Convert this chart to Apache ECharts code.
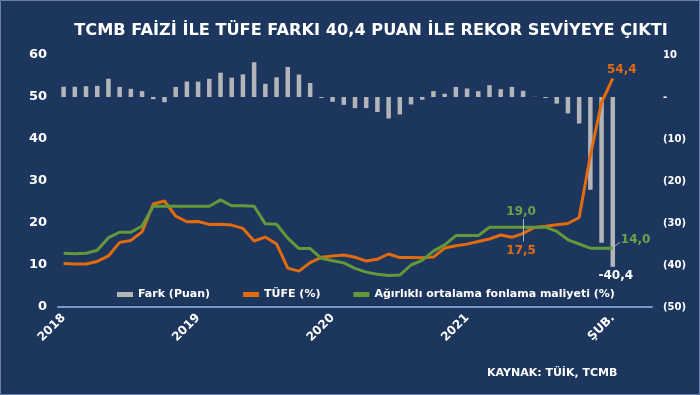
<!DOCTYPE html>
<html>
<head>
<meta charset="utf-8">
<script src="https://cdn.jsdelivr.net/npm/echarts@6/dist/echarts.min.js"></script>
<style>
html,body{margin:0;padding:0;background:#1c365e;}
#c{width:700px;height:395px;}
</style>
</head>
<body>
<div id="c"></div>
<script>
const months = [
'Oca 2018','Şub 2018','Mar 2018','Nis 2018','May 2018','Haz 2018','Tem 2018','Ağu 2018','Eyl 2018','Eki 2018','Kas 2018','Ara 2018',
'Oca 2019','Şub 2019','Mar 2019','Nis 2019','May 2019','Haz 2019','Tem 2019','Ağu 2019','Eyl 2019','Eki 2019','Kas 2019','Ara 2019',
'Oca 2020','Şub 2020','Mar 2020','Nis 2020','May 2020','Haz 2020','Tem 2020','Ağu 2020','Eyl 2020','Eki 2020','Kas 2020','Ara 2020',
'Oca 2021','Şub 2021','Mar 2021','Nis 2021','May 2021','Haz 2021','Tem 2021','Ağu 2021','Eyl 2021','Eki 2021','Kas 2021','Ara 2021',
'Oca 2022','Şub 2022'];
const tickLabels = {'Oca 2018':'2018','Oca 2019':'2019','Oca 2020':'2020','Oca 2021':'2021','Şub 2022':'ŞUB.'};

const tufe = [10.35,10.26,10.23,10.85,12.15,15.39,15.85,17.90,24.52,25.24,21.62,20.30,
20.35,19.67,19.71,19.50,18.71,15.72,16.65,15.01,9.26,8.55,10.56,11.84,
12.15,12.37,11.86,10.94,11.39,12.62,11.76,11.77,11.75,11.89,14.03,14.60,
14.97,15.61,16.19,17.14,16.59,17.53,18.95,19.25,19.58,19.89,21.31,36.08,
48.69,54.44];

const fonlama = [12.8,12.7,12.8,13.5,16.5,17.8,17.8,19.3,24.0,24.0,24.0,24.0,
24.0,24.0,25.5,24.1,24.1,24.0,19.8,19.7,16.4,13.9,13.9,11.6,
11.0,10.5,9.2,8.3,7.8,7.5,7.6,10.0,11.1,13.3,14.8,17.0,
17.0,17.0,19.0,19.0,19.0,19.0,19.0,19.0,18.0,16.0,15.0,14.0,
14.0,14.0];

const fark = [2.45,2.44,2.57,2.65,4.35,2.41,1.95,1.40,-0.52,-1.24,2.38,3.70,
3.65,4.33,5.79,4.60,5.39,8.28,3.15,4.69,7.14,5.35,3.34,-0.24,
-1.15,-1.87,-2.66,-2.64,-3.59,-5.12,-4.16,-1.77,-0.65,1.41,0.77,2.40,
2.03,1.39,2.81,1.86,2.41,1.47,0.05,-0.25,-1.58,-3.89,-6.31,-22.08,
-34.69,-40.44];

const leftTicks = {min:0, max:60, interval:10};
const rightTicks = {min:-50, max:10, interval:10};

const FONT = 'DejaVu Sans';
const ORANGE = '#e26b0e';
const GREEN = '#62993a';
const GREEN_TXT = '#6aa446';
const GRAY = '#b4b5b8';
const fmt = v => v.toFixed(1).replace('.', ',');

const categories = months.concat(['', '', '']);
const lastIdx = months.length - 1;
const annIdx = months.indexOf('Haz 2021');

const farkData = fark.map((v, i) => i === lastIdx ? {
  value: v,
  label: {show: true, position: 'bottom', distance: 3, offset: [3, 0], formatter: fmt(v),
          color: '#ffffff', fontFamily: FONT, fontWeight: 'bold', fontSize: 12}
} : v);

const tufeData = tufe.map((v, i) => {
  if (i === lastIdx) return {value: v, label: {show: true, position: 'top', distance: 2, offset: [9, 0], formatter: fmt(v)}};
  if (i === annIdx) return {value: v, label: {show: true, position: 'bottom', distance: 11, offset: [-2, 0], formatter: fmt(v)}};
  return v;
});
const fonlamaData = fonlama.map((v, i) => {
  if (i === lastIdx) return {value: v, label: {show: true, position: 'right', distance: 8, offset: [0, -8], formatter: fmt(v)}};
  if (i === annIdx) return {value: v, label: {show: true, position: 'top', distance: 9, offset: [-2, 0], formatter: fmt(v)}};
  return v;
});

const chart = echarts.init(document.getElementById('c'), null, {renderer: 'canvas'});
const option = {
  backgroundColor: '#1c365e',
  animation: false,
  title: {
    text: 'TCMB FAİZİ İLE TÜFE FARKI 40,4 PUAN İLE REKOR SEVİYEYE ÇIKTI',
    left: 366, top: 18, textAlign: 'center',
    textStyle: {color: '#ffffff', fontFamily: FONT, fontWeight: 'bold', fontSize: 16.2}
  },
  legend: {
    left: 112, top: 284, itemWidth: 16, itemHeight: 5, itemGap: 33, icon: 'rect',
    textStyle: {color: '#ffffff', fontFamily: FONT, fontWeight: 'bold', fontSize: 11},
    data: ['Fark (Puan)', 'TÜFE (%)', 'Ağırlıklı ortalama fonlama maliyeti (%)']
  },
  grid: {left: 58, right: 48, top: 55, bottom: 88, containLabel: false},
  xAxis: {
    type: 'category', data: categories, boundaryGap: true,
    axisLine: {lineStyle: {color: '#7d95c6', width: 2}},
    axisTick: {show: false},
    axisLabel: {
      interval: (i, v) => v in tickLabels,
      formatter: v => tickLabels[v] || '',
      rotate: 45, margin: 9, color: '#ffffff', fontFamily: FONT, fontWeight: 'bold', fontSize: 12
    },
    splitLine: {show: false}
  },
  yAxis: [{
    type: 'value', min: leftTicks.min, max: leftTicks.max, interval: leftTicks.interval,
    axisLine: {show: false}, axisTick: {show: false}, splitLine: {show: false},
    axisLabel: {color: '#ffffff', fontFamily: FONT, fontWeight: 'bold', fontSize: 13, margin: 11}
  }, {
    type: 'value', position: 'right', min: rightTicks.min, max: rightTicks.max, interval: rightTicks.interval,
    axisLine: {show: false}, axisTick: {show: false}, splitLine: {show: false},
    axisLabel: {color: '#ffffff', fontFamily: FONT, fontWeight: 'bold', fontSize: 10, margin: 11,
      formatter: v => v < 0 ? '(' + (-v) + ')' : (v === 0 ? '-' : String(v))}
  }],
  series: [{
    name: 'Fark (Puan)', type: 'bar', yAxisIndex: 1, data: farkData,
    barWidth: 4.5, itemStyle: {color: GRAY}, silent: true
  }, {
    name: 'TÜFE (%)', type: 'line', yAxisIndex: 0, data: tufeData,
    symbol: 'circle', symbolSize: 0.1, showSymbol: true, showAllSymbol: true,
    lineStyle: {color: ORANGE, width: 3}, itemStyle: {color: ORANGE},
    label: {color: ORANGE, fontFamily: FONT, fontWeight: 'bold', fontSize: 12},
    silent: true,
    markLine: {
      silent: true, symbol: ['none', 'none'], label: {show: false},
      lineStyle: {color: '#a6b4cc', width: 1, type: 'solid'},
      data: [[{coord: [annIdx, 21.0]}, {coord: [annIdx, 15.6]}]]
    }
  }, {
    name: 'Ağırlıklı ortalama fonlama maliyeti (%)', type: 'line', yAxisIndex: 0, data: fonlamaData,
    symbol: 'circle', symbolSize: 0.1, showSymbol: true, showAllSymbol: true,
    lineStyle: {color: GREEN, width: 3}, itemStyle: {color: GREEN},
    label: {color: GREEN_TXT, fontFamily: FONT, fontWeight: 'bold', fontSize: 12},
    silent: true
  }],
  graphic: [{
    type: 'text', left: 487, top: 368,
    style: {text: 'KAYNAK: TÜİK, TCMB', fill: '#ffffff', font: 'bold 11px "DejaVu Sans"'}
  }, {
    type: 'rect', shape: {x: 0.5, y: 0.5, width: 699, height: 394},
    style: {fill: 'none', stroke: '#6880aa', lineWidth: 1}, silent: true
  }]
};
chart.setOption(option);

const p = chart.convertToPixel({gridIndex: 0}, [lastIdx, fonlama[lastIdx]]);
chart.setOption({graphic: option.graphic.concat([{
  type: 'line', shape: {x1: p[0] + 2, y1: p[1] - 2, x2: p[0] + 7, y2: p[1] - 6},
  style: {stroke: '#a6b4cc', lineWidth: 1}, silent: true
}])});
</script>
</body>
</html>
